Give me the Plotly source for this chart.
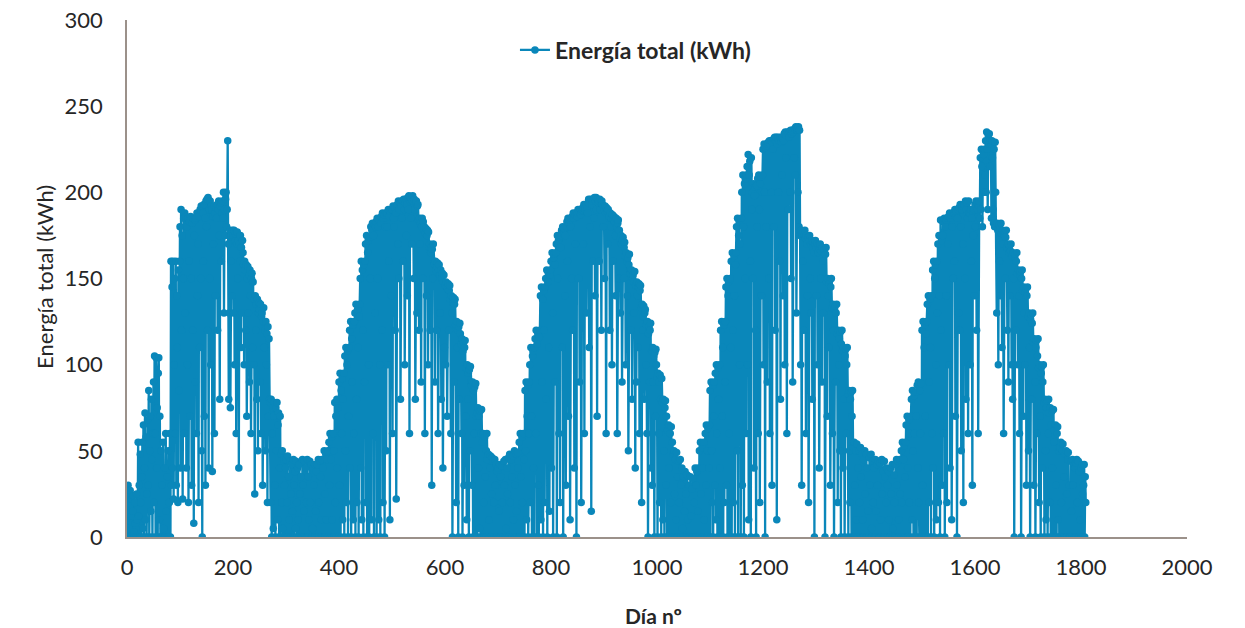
import plotly.graph_objects as go

# Daily total energy (kWh), in consecutive chunks
energy_days_0000_0359 = [
    0, 20, 30, 5, 0, 18, 27, 0, 12, 22,
    0, 15, 24, 3, 0, 20, 8, 0, 25, 10,
    0, 55, 12, 30, 0, 48, 20, 0, 35, 55,
    5, 65, 0, 40, 72, 10, 58, 0, 25, 68,
    30, 85, 0, 50, 70, 15, 80, 45, 0, 60,
    90, 20, 105, 60, 0, 104, 40, 75, 0, 95,
    104, 10, 70, 0, 50, 0, 30, 0, 55, 5,
    0, 40, 0, 60, 15, 0, 35, 0, 50, 0,
    20, 60, 0, 160, 30, 145, 40, 160, 22, 100,
    150, 60, 160, 30, 140, 110, 20, 155, 85, 160,
    180, 40, 190, 120, 175, 22, 150, 185, 60, 188,
    130, 186, 40, 180, 100, 185, 20, 160, 183, 70,
    186, 150, 30, 182, 120, 185, 8, 175, 184, 90,
    185, 60, 188, 140, 170, 20, 186, 110, 190, 150,
    192, 50, 0, 188, 160, 193, 70, 185, 30, 195,
    180, 196, 120, 197, 40, 190, 150, 195, 100, 192,
    190, 38, 186, 170, 192, 60, 188, 140, 191, 185,
    193, 120, 190, 195, 175, 80, 192, 194, 160, 188,
    195, 185, 200, 130, 190, 175, 196, 200, 180, 190,
    230, 170, 80, 130, 178, 75, 160, 175, 140, 178,
    175, 130, 178, 100, 172, 176, 60, 170, 177, 150,
    172, 40, 170, 160, 175, 110, 168, 130, 172, 165,
    158, 100, 160, 155, 120, 158, 70, 150, 157, 130,
    152, 90, 155, 140, 60, 150, 153, 110, 148, 100,
    138, 25, 140, 120, 135, 80, 138, 50, 130, 136,
    132, 90, 135, 60, 128, 130, 30, 125, 133, 110,
    120, 50, 125, 100, 118, 20, 122, 70, 115, 80,
    78, 20, 80, 0, 60, 75, 5, 70, 78, 30,
    0, 75, 50, 78, 10, 65, 72, 0, 40, 70,
    0, 48, 20, 50, 5, 0, 45, 30, 0, 40,
    45, 0, 20, 47, 0, 35, 10, 0, 44, 25,
    0, 42, 15, 0, 45, 30, 0, 38, 5, 44,
    20, 0, 40, 10, 0, 42, 25, 0, 35, 0,
    0, 45, 30, 0, 15, 44, 0, 40, 20, 0,
    45, 0, 35, 10, 0, 44, 20, 0, 42, 0,
    5, 40, 0, 30, 42, 0, 15, 38, 0, 42,
]

energy_days_0360_0719 = [
    0, 45, 20, 0, 44, 35, 0, 10, 45, 0,
    40, 0, 50, 25, 0, 48, 10, 45, 0, 50,
    0, 55, 30, 60, 0, 45, 58, 10, 0, 60,
    50, 0, 78, 20, 70, 0, 80, 40, 75, 0,
    90, 30, 95, 0, 85, 60, 92, 10, 80, 95,
    0, 105, 50, 110, 20, 100, 108, 0, 70, 110,
    120, 40, 125, 0, 115, 90, 123, 10, 60, 125,
    130, 0, 135, 80, 20, 132, 110, 0, 128, 135,
    150, 40, 160, 10, 155, 120, 0, 158, 90, 160,
    170, 20, 175, 0, 165, 172, 100, 0, 174, 150,
    180, 10, 178, 182, 60, 175, 0, 181, 130, 180,
    183, 0, 185, 150, 180, 10, 184, 100, 0, 182,
    186, 120, 188, 20, 185, 187, 0, 180, 188, 50,
    188, 180, 100, 190, 160, 186, 10, 189, 190, 140,
    190, 60, 192, 185, 180, 191, 120, 188, 22, 192,
    193, 170, 195, 150, 190, 194, 80, 192, 195, 185,
    195, 160, 196, 190, 100, 194, 196, 175, 193, 140,
    197, 190, 198, 60, 195, 197, 185, 196, 170, 198,
    195, 150, 196, 190, 80, 194, 195, 130, 192, 193,
    184, 120, 185, 170, 182, 90, 180, 185, 150, 183,
    178, 180, 60, 176, 179, 140, 175, 178, 100, 177,
    168, 170, 120, 165, 168, 30, 167, 150, 170, 160,
    158, 90, 160, 155, 120, 157, 159, 60, 155, 158,
    152, 130, 155, 80, 150, 153, 40, 148, 152, 110,
    146, 100, 148, 145, 70, 144, 147, 120, 143, 146,
    138, 60, 140, 130, 0, 136, 139, 90, 135, 138,
    123, 20, 125, 110, 120, 0, 122, 80, 124, 118,
    112, 60, 115, 0, 108, 113, 30, 110, 114, 70,
    98, 10, 100, 80, 95, 0, 97, 50, 99, 90,
    88, 30, 90, 0, 85, 60, 87, 0, 89, 70,
    72, 0, 75, 40, 70, 5, 73, 0, 60, 74,
    55, 0, 60, 20, 0, 58, 35, 0, 50, 60,
    45, 0, 48, 10, 0, 40, 47, 0, 25, 46,
    0, 44, 20, 0, 45, 30, 0, 42, 0, 38,
    40, 0, 15, 42, 0, 35, 0, 41, 20, 0,
    0, 44, 30, 0, 45, 5, 0, 40, 25, 0,
]

energy_days_0720_1079 = [
    46, 0, 48, 20, 0, 45, 35, 0, 47, 10,
    0, 50, 30, 0, 48, 15, 0, 49, 40, 0,
    55, 0, 60, 35, 0, 58, 20, 0, 60, 45,
    0, 85, 50, 90, 10, 70, 88, 0, 60, 90,
    100, 20, 110, 70, 0, 105, 108, 40, 0, 110,
    115, 60, 120, 0, 112, 118, 30, 0, 116, 120,
    140, 10, 145, 90, 138, 0, 143, 120, 20, 145,
    150, 80, 155, 0, 148, 153, 110, 15, 152, 155,
    160, 40, 165, 130, 0, 162, 164, 90, 158, 165,
    170, 0, 175, 150, 172, 60, 174, 20, 168, 175,
    178, 110, 180, 0, 176, 179, 140, 175, 30, 180,
    183, 160, 185, 70, 182, 184, 10, 180, 185, 150,
    186, 120, 188, 185, 40, 187, 170, 188, 0, 186,
    188, 190, 150, 189, 90, 190, 187, 20, 189, 190,
    191, 170, 193, 60, 192, 190, 193, 130, 191, 188,
    194, 196, 110, 195, 180, 196, 15, 193, 195, 160,
    196, 185, 197, 140, 195, 197, 190, 70, 196, 194,
    195, 160, 196, 190, 194, 120, 195, 193, 180, 192,
    190, 150, 192, 188, 60, 191, 189, 170, 190, 185,
    186, 120, 188, 180, 185, 100, 187, 160, 184, 186,
    183, 175, 140, 185, 180, 60, 182, 184, 150, 178,
    173, 130, 175, 170, 90, 172, 174, 150, 168, 171,
    163, 100, 165, 160, 140, 162, 50, 158, 164, 155,
    153, 120, 155, 80, 150, 152, 130, 148, 154, 40,
    146, 90, 148, 140, 110, 145, 147, 60, 143, 146,
    133, 20, 135, 120, 128, 134, 80, 130, 132, 100,
    123, 60, 125, 0, 118, 122, 90, 120, 124, 40,
    108, 30, 110, 90, 105, 0, 107, 70, 109, 100,
    93, 0, 95, 60, 90, 20, 94, 80, 0, 92,
    78, 10, 80, 50, 0, 75, 79, 30, 70, 0,
    62, 0, 65, 40, 0, 60, 20, 64, 0, 55,
    48, 0, 50, 25, 0, 45, 10, 49, 0, 35,
    0, 44, 20, 0, 45, 30, 0, 40, 5, 0,
    35, 0, 15, 38, 0, 25, 0, 36, 10, 0,
    0, 30, 0, 35, 12, 0, 28, 0, 34, 0,
    20, 0, 40, 0, 30, 38, 0, 15, 40, 0,
]

energy_days_1080_1439 = [
    50, 0, 55, 25, 0, 52, 40, 0, 55, 10,
    0, 60, 30, 65, 0, 50, 63, 0, 40, 65,
    85, 0, 90, 50, 20, 88, 0, 70, 90, 30,
    95, 10, 100, 60, 0, 98, 80, 0, 100, 40,
    120, 0, 125, 70, 110, 0, 123, 20, 90, 125,
    145, 30, 150, 0, 140, 148, 60, 0, 150, 110,
    160, 0, 165, 120, 20, 163, 140, 0, 158, 165,
    180, 50, 185, 0, 175, 183, 100, 170, 0, 185,
    200, 30, 210, 180, 0, 205, 150, 208, 60, 210,
    215, 100, 222, 10, 210, 218, 160, 0, 220, 190,
    200, 150, 205, 40, 198, 203, 120, 0, 204, 180,
    208, 60, 210, 190, 20, 205, 209, 140, 200, 210,
    225, 100, 228, 200, 0, 226, 180, 227, 90, 228,
    229, 150, 230, 60, 228, 230, 200, 30, 229, 225,
    231, 180, 232, 120, 230, 232, 10, 228, 232, 200,
    230, 160, 232, 80, 231, 229, 210, 232, 140, 230,
    234, 100, 235, 220, 233, 60, 235, 234, 190, 232,
    235, 200, 236, 150, 234, 236, 90, 235, 236, 220,
    237, 210, 238, 130, 236, 237, 200, 238, 180, 236,
    175, 100, 178, 30, 176, 160, 177, 120, 175, 178,
    173, 60, 175, 170, 140, 174, 20, 172, 175, 150,
    170, 130, 172, 80, 168, 171, 165, 0, 170, 172,
    168, 140, 170, 100, 165, 169, 40, 167, 170, 150,
    166, 90, 168, 160, 130, 165, 167, 0, 164, 168,
    148, 70, 150, 140, 110, 147, 149, 30, 145, 150,
    133, 60, 135, 120, 0, 132, 134, 90, 130, 135,
    118, 20, 120, 100, 115, 50, 119, 0, 112, 120,
    108, 40, 110, 80, 0, 105, 109, 60, 100, 110,
    83, 0, 85, 50, 20, 80, 84, 0, 70, 85,
    52, 0, 55, 30, 0, 50, 10, 54, 0, 40,
    0, 50, 20, 0, 52, 35, 0, 48, 10, 0,
    45, 0, 50, 25, 0, 48, 0, 40, 15, 0,
    0, 46, 30, 0, 48, 5, 0, 44, 20, 0,
    40, 0, 45, 15, 0, 42, 30, 0, 44, 0,
    0, 43, 10, 0, 45, 25, 0, 38, 0, 44,
    35, 0, 20, 40, 0, 30, 0, 38, 10, 0,
]

energy_days_1440_1809 = [
    0, 40, 25, 0, 42, 5, 0, 36, 20, 0,
    42, 0, 45, 30, 0, 44, 10, 0, 45, 25,
    0, 50, 20, 55, 0, 45, 53, 0, 35, 55,
    65, 0, 70, 40, 0, 68, 20, 60, 0, 70,
    80, 10, 85, 50, 0, 82, 60, 0, 84, 70,
    0, 88, 40, 90, 20, 0, 85, 60, 89, 0,
    120, 30, 125, 0, 110, 123, 70, 0, 118, 125,
    135, 0, 140, 90, 20, 138, 110, 0, 140, 60,
    155, 40, 160, 0, 150, 158, 100, 10, 160, 130,
    170, 20, 175, 140, 0, 184, 120, 172, 30, 175,
    183, 60, 185, 0, 180, 184, 140, 20, 185, 170,
    186, 100, 188, 40, 185, 187, 10, 180, 188, 150,
    188, 160, 190, 70, 186, 189, 0, 185, 190, 130,
    191, 120, 193, 180, 50, 190, 192, 170, 20, 193,
    193, 150, 195, 80, 190, 194, 185, 60, 195, 188,
    188, 100, 190, 160, 185, 30, 189, 175, 190, 140,
    193, 180, 195, 120, 190, 194, 60, 192, 195, 185,
    220, 190, 225, 215, 180, 224, 222, 200, 225, 210,
    230, 200, 235, 225, 190, 233, 228, 234, 215, 230,
    228, 185, 230, 220, 190, 182, 225, 180, 229, 200,
    180, 130, 182, 178, 100, 181, 160, 179, 140, 182,
    176, 110, 178, 170, 60, 175, 177, 150, 174, 178,
    168, 120, 170, 90, 165, 169, 140, 166, 170, 100,
    163, 80, 165, 150, 0, 162, 164, 120, 160, 165,
    153, 100, 155, 140, 60, 152, 154, 0, 150, 155,
    143, 70, 145, 130, 100, 142, 144, 30, 140, 145,
    128, 50, 130, 110, 0, 126, 129, 80, 124, 130,
    113, 30, 115, 90, 0, 110, 114, 60, 105, 115,
    98, 20, 100, 70, 0, 95, 99, 40, 90, 100,
    78, 0, 80, 50, 10, 75, 79, 0, 60, 80,
    72, 20, 75, 0, 65, 73, 40, 0, 74, 55,
    62, 0, 65, 30, 0, 60, 64, 10, 50, 0,
    52, 0, 55, 20, 0, 50, 54, 0, 35, 0,
    48, 0, 50, 25, 0, 45, 49, 0, 30, 0,
    0, 44, 15, 0, 45, 30, 0, 42, 0, 40,
    43, 0, 45, 20, 0, 44, 0, 38, 10, 0,
    40, 0, 42, 25, 0, 30, 42, 0, 35, 20,
]

energy = (energy_days_0000_0359 + energy_days_0360_0719 + energy_days_0720_1079
          + energy_days_1080_1439 + energy_days_1440_1809)
days = list(range(len(energy)))

series_name = "Energía total (kWh)"
x_title = "Día nº"
y_title = "Energía total (kWh)"
x_ticks = [0, 200, 400, 600, 800, 1000, 1200, 1400, 1600, 1800, 2000]
y_ticks = [0, 50, 100, 150, 200, 250, 300]

blue = "#0a87ba"
font_family = "Lato, 'Open Sans', sans-serif"
text_color = "#262626"
axis_color = "#9b918a"

fig = go.Figure()
fig.add_trace(go.Scatter(
    x=days, y=energy, mode="lines+markers", name=series_name,
    line=dict(color=blue, width=2.3),
    marker=dict(color=blue, size=7.5),
))

fig.update_layout(
    width=1245, height=628,
    margin=dict(l=127, r=58, t=20, b=91),
    paper_bgcolor="white", plot_bgcolor="white",
    font=dict(family=font_family, color=text_color, size=22),
    showlegend=True,
    legend=dict(x=0.366, y=0.942, xanchor="left", yanchor="middle",
                bgcolor="rgba(0,0,0,0)",
                font=dict(size=23, family=font_family, color=text_color, weight="bold")),
    xaxis=dict(range=[0, 2000], tickvals=x_ticks, ticktext=[str(v) for v in x_ticks],
               showgrid=False, zeroline=False, showline=True, linecolor=axis_color,
               linewidth=1.5, ticks="", tickfont=dict(size=22), ticklabelstandoff=10,
               automargin=False),
    yaxis=dict(range=[0, 300], tickvals=y_ticks, ticktext=[str(v) for v in y_ticks],
               showgrid=False, zeroline=False, showline=True, linecolor=axis_color,
               linewidth=1.5, ticks="", tickfont=dict(size=22), ticklabelstandoff=18,
               automargin=False),
    annotations=[
        dict(text=x_title, xref="paper", yref="paper", x=0.497, y=-0.151,
             xanchor="center", yanchor="middle", showarrow=False,
             font=dict(size=21, weight="bold", color=text_color)),
        dict(text=y_title, xref="paper", yref="paper", x=-0.0774, y=0.503,
             xanchor="center", yanchor="middle", showarrow=False, textangle=-90,
             font=dict(size=22, color=text_color)),
    ],
)

fig.write_html("out.html", config={"displayModeBar": False},
               post_script="document.body.style.margin='0';document.body.style.overflow='hidden';")
